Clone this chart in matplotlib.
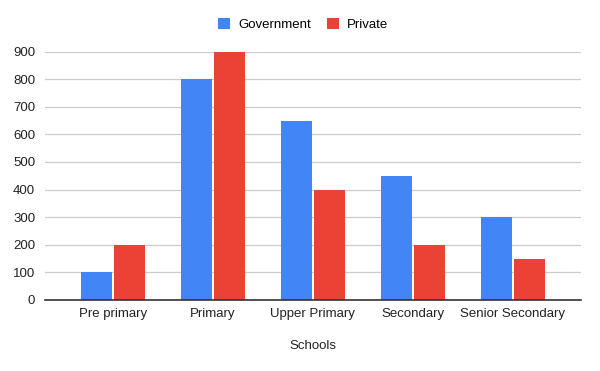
import numpy as np
import matplotlib.pyplot as plt

plt.rcParams['font.family'] = ['Liberation Sans', 'DejaVu Sans']

categories = ["Pre primary", "Primary", "Upper Primary", "Secondary", "Senior Secondary"]
government = [100, 800, 650, 450, 300]
private = [200, 900, 400, 200, 150]

fig = plt.figure(figsize=(6, 3.71), dpi=100)
ax = fig.add_axes([0.075, 0.1914, 0.893, 0.6696])

x = np.arange(len(categories))
w = 0.31
ax.bar(x - w / 2 - 0.01, government, w, color="#4285F4", label="Government", zorder=3)
ax.bar(x + w / 2 + 0.01, private, w, color="#EA4335", label="Private", zorder=3)

ax.set_xlim(-0.68, 4.68)
ax.set_ylim(0, 900)
ax.set_yticks(range(0, 901, 100))
ax.set_xticks(x)
ax.set_xticklabels(categories, fontsize=9.5, color="#222222")
ax.tick_params(axis="y", labelsize=9.5, labelcolor="#222222", length=0, pad=7)
ax.tick_params(axis="x", length=0, pad=6)
ax.grid(axis="y", color="#cccccc", linewidth=0.9, zorder=0)
for s in ["top", "right", "left"]:
    ax.spines[s].set_visible(False)
ax.spines["bottom"].set_color("#333333")
ax.spines["bottom"].set_linewidth(1.2)
ax.spines["bottom"].set_zorder(4)

ax.set_xlabel("Schools", fontsize=9.5, color="#222222", labelpad=14)

fig.legend(loc="center", bbox_to_anchor=(0.505, 0.935), ncol=2, frameon=False,
           fontsize=9.5, handlelength=0.9, handleheight=0.9, columnspacing=1.2,
           handletextpad=0.6)

fig.savefig("out.png", dpi=100)
